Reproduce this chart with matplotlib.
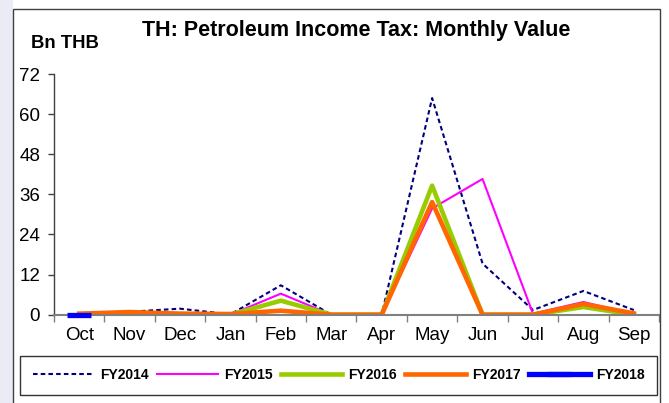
import numpy as np
import matplotlib.pyplot as plt
from matplotlib.patches import Rectangle

plt.rcParams['font.family'] = ['Liberation Sans', 'DejaVu Sans']

months = ['Oct', 'Nov', 'Dec', 'Jan', 'Feb', 'Mar', 'Apr', 'May', 'Jun', 'Jul', 'Aug', 'Sep']

fy2014 = [0.3, 0.9, 1.8, 0.1, 8.8, 0.0, 0.0, 64.8, 15.3, 1.4, 7.1, 1.4]
fy2015 = [0.0, 0.5, 0.3, 0.0, 6.3, 0.0, 0.0, 31.8, 40.6, 0.3, 3.8, 0.2]
fy2016 = [0.2, 0.5, 0.2, 0.0, 4.2, 0.0, 0.0, 38.6, 0.0, 0.0, 2.3, 0.0]
fy2017 = [0.3, 0.8, 0.3, 0.2, 1.2, 0.0, 0.0, 33.7, 0.0, 0.0, 3.2, 0.4]
fy2018 = [0.0]

y_ticks = [0, 12, 24, 36, 48, 60, 72]

W, H = 669, 403


def px(x, y):
    """
    converts pixel coordinates (from the top left corner) to figure fractions
    """
    return x / W, 1 - y / H


fig = plt.figure(figsize=(W / 100, H / 100), dpi=100)

# light strip on the left and the outer chart frame
fig.patches.append(Rectangle((0, 0), 13 / W, 1, transform=fig.transFigure,
                             facecolor='#ebebf5', edgecolor='none', zorder=0))
fig.patches.append(Rectangle(px(13, 420), 647 / W, 411 / H, transform=fig.transFigure,
                             facecolor='none', edgecolor='#404040', lw=1.0, zorder=1))

left, top = px(54, 74)
right, bottom = px(659, 314.7)
ax = fig.add_axes([left, bottom, right - left, top - bottom])
ax.set_facecolor('none')

x = np.arange(len(months))

ax.plot(x, fy2014, color='#000080', lw=1.5, dashes=[2.2, 1.5], label='FY2014')
ax.plot(x, fy2015, color='#ff00ff', lw=1.5, label='FY2015')
ax.plot(x, fy2016, color='#99cc00', lw=3.3, label='FY2016')
ax.plot(x, fy2017, color='#ff6600', lw=3.3, label='FY2017')
ax.plot(x[:len(fy2018)], fy2018, color='#0000ff', lw=3.8, marker='_', ms=17.5, mew=3.8,
        label='FY2018', clip_on=False, zorder=5)

ax.set_xlim(-0.5, len(months) - 0.5)
ax.set_ylim(0, 72)
ax.set_yticks(y_ticks)
ax.tick_params(axis='y', labelsize=13.5, length=4, width=1, color='#404040', pad=6)

ax.set_xticks(x)
ax.set_xticklabels(months)
ax.set_xticks(np.arange(-0.5, len(months)), minor=True)
ax.tick_params(axis='x', which='major', length=0, labelsize=13.5, pad=9)
ax.tick_params(axis='x', which='minor', length=5, width=1, color='#808080')

for side in ['top', 'right']:
    ax.spines[side].set_visible(False)
ax.spines['left'].set_color('#404040')
ax.spines['left'].set_linewidth(1.0)
ax.spines['bottom'].set_color('#808080')
ax.spines['bottom'].set_linewidth(1.5)

fig.text(*px(356, 30.5), 'TH: Petroleum Income Tax: Monthly Value', ha='center', va='center',
         fontsize=15.5, fontweight='bold')
fig.text(*px(65, 44), 'Bn THB', ha='center', va='center', fontsize=13.3, fontweight='bold')

lx, ly = px(20, 398)
leg = fig.legend(loc='center', ncol=5, bbox_to_anchor=(lx, ly, 637 / W, 46 / H),
                 mode='expand', prop={'weight': 'bold', 'size': 10},
                 handlelength=4.4, handletextpad=0.45, columnspacing=0.7,
                 fancybox=False, borderpad=0.9, borderaxespad=0)
leg.get_frame().set_edgecolor('black')
leg.get_frame().set_linewidth(1.0)

plt.savefig('out.png', dpi=100)
